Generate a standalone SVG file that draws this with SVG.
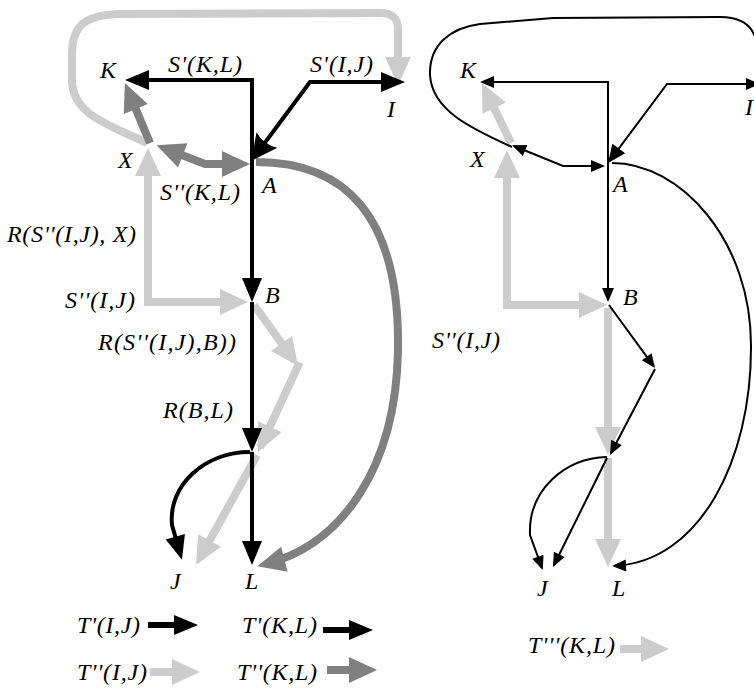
<svg xmlns="http://www.w3.org/2000/svg" width="754" height="688" viewBox="0 0 754 688">
<style>
text{font-family:'Liberation Serif','Times New Roman',serif;font-style:italic;font-size:24px;fill:#000}
.bk{fill:none;stroke:#000;stroke-width:4;marker-end:url(#mB)}
.bks{marker-start:url(#mB)}
.lg{fill:none;stroke:#ccc;stroke-width:8;marker-end:url(#mL)}
.lgs{marker-start:url(#mL)}
.dg{fill:none;stroke:#808080;stroke-width:8;marker-end:url(#mD)}
.dgs{marker-start:url(#mD)}
.tn{fill:none;stroke:#000;stroke-width:2;marker-end:url(#mS)}
.tns{marker-start:url(#mS)}
.nm{marker-end:none}
</style>
<defs>
<marker id="mB" markerUnits="userSpaceOnUse" markerWidth="24" markerHeight="20" refX="17" refY="10" orient="auto-start-reverse" overflow="visible"><path d="M0,0 L24,10 L0,20 z" fill="#000"/></marker>
<marker id="mBA" markerUnits="userSpaceOnUse" markerWidth="26" markerHeight="26" refX="19" refY="13" orient="auto-start-reverse" overflow="visible"><path d="M0,0 L26,13 L0,26 Q6,13 0,0 z" fill="#000"/></marker>
<marker id="mL" markerUnits="userSpaceOnUse" markerWidth="28" markerHeight="26" refX="19" refY="13" orient="auto-start-reverse" overflow="visible"><path d="M0,0 L28,13 L0,26 z" fill="#ccc"/></marker>
<marker id="mD" markerUnits="userSpaceOnUse" markerWidth="28" markerHeight="26" refX="19" refY="13" orient="auto-start-reverse" overflow="visible"><path d="M0,0 L28,13 L0,26 z" fill="#808080"/></marker>
<marker id="mS" markerUnits="userSpaceOnUse" markerWidth="14" markerHeight="12" refX="12" refY="6" orient="auto-start-reverse" overflow="visible"><path d="M0,0 L14,6 L0,12 z" fill="#000"/></marker>
<marker id="mA" markerUnits="userSpaceOnUse" markerWidth="18" markerHeight="16" refX="15" refY="8" orient="auto-start-reverse" overflow="visible"><path d="M0,0 L18,8 L0,16 z" fill="#000"/></marker>
</defs>

<g id="connectors">
  <path class="lg" d="M147,143 C110,125 72,115 72,80 L72,55 C72,25 85,15 120,14 L380,13 C393,13 398,18 398,30 L398,76"/>
  <path class="lg lgs" d="M239,302 H148 V157"/>
  <path class="lg" d="M254,305 L292.7,358.7"/>
  <path class="lg" style="stroke-linecap:square" d="M298,366 L261.8,443.9"/>
  <path class="lg" d="M257,455 L200.4,557.1"/>
  <path class="dg" d="M150,143 L128.4,91.4"/>
  <path class="dg dgs" d="M241,164 H205 L165,148.5"/>
  <path class="dg" d="M256,162 C345,162 400,215 398,350 C396,470 340,545 266,564"/>
  <path class="bk bks" d="M252,295 V80 H132"/>
  <path class="bk" style="marker-start:url(#mBA)" d="M255.6,155.2 L310,82 H398"/>
  <path class="bk" d="M252,302 V445"/>
  <path class="bk" d="M252,452 V558"/>
  <path class="bk" d="M250,452 C205,452 168,485 172,525 L180,553"/>

  <path class="lg lgs" d="M598,305 H507 V159"/>
  <path class="lg" d="M511,143 L485.9,91.1"/>
  <path class="lg" d="M608,308 V446"/>
  <path class="lg" d="M608,458 V558"/>
  <path class="tn nm" d="M512,147 C470,128 432,110 430,75 C429,45 450,28 480,24 L553,18 L720,17 C740,17 752,24 756,40"/>
  <path class="tn tns" d="M608,300 V82 H482"/>
  <path class="tn" style="marker-start:url(#mA)" d="M609.8,160.6 L667,84 H758"/>
  <path class="tn tns" d="M603,166 H563 L514,146"/>
  <path class="tn" d="M609,305 L653.8,366.4"/>
  <path class="tn" d="M655,369 L610.9,453.2"/>
  <path class="tn" d="M607,458 L553.9,565.2"/>
  <path class="tn" d="M607,457 C565,458 528,490 530,535 L542,568"/>
  <path class="tn" d="M612,163 C680,163 752,240 751,348 C751,460 700,562 614,566"/>

  <path class="bk" style="stroke-width:6" d="M148,625 H191"/>
  <path class="bk" style="stroke-width:6" d="M323,630 H366"/>
  <path class="lg" d="M150,672 H191"/>
  <path class="dg" d="M327,670 H368"/>
  <path class="lg" d="M620,649 H660"/>
</g>

<g id="left-nodes">
  <g id="nK1"><text x="100" y="78">K</text></g>
  <g id="nI1"><text x="387" y="117">I</text></g>
  <g id="nX1"><text x="118" y="168">X</text></g>
  <g id="nA1"><text x="262" y="193">A</text></g>
  <g id="nB1"><text x="265" y="303">B</text></g>
  <g id="nJ1"><text x="170" y="589">J</text></g>
  <g id="nL1"><text x="245" y="589">L</text></g>
</g>
<g id="right-nodes">
  <g id="nK2"><text x="460" y="78">K</text></g>
  <g id="nI2"><text x="745" y="115">I</text></g>
  <g id="nX2"><text x="470" y="167">X</text></g>
  <g id="nA2"><text x="613" y="192">A</text></g>
  <g id="nB2"><text x="623" y="305">B</text></g>
  <g id="nJ2"><text x="537" y="596">J</text></g>
  <g id="nL2"><text x="612" y="596">L</text></g>
</g>
<g id="labels">
  <text x="168" y="72" textLength="74">S'(K,L)</text>
  <text x="310" y="72" textLength="63">S'(I,J)</text>
  <text x="160" y="200" textLength="80">S''(K,L)</text>
  <text x="7" y="242" textLength="129">R(S''(I,J), X)</text>
  <text x="65" y="308" textLength="70">S''(I,J)</text>
  <text x="98" y="350" textLength="138">R(S''(I,J),B))</text>
  <text x="163" y="418" textLength="70">R(B,L)</text>
  <text x="432" y="348" textLength="68">S''(I,J)</text>
</g>
<g id="legend">
  <text x="77" y="633" textLength="63">T'(I,J)</text>
  <text x="242" y="633" textLength="75">T'(K,L)</text>
  <text x="77" y="680" textLength="70">T''(I,J)</text>
  <text x="237" y="680" textLength="80">T''(K,L)</text>
  <text x="528" y="653" textLength="87">T'''(K,L)</text>
</g>
</svg>
